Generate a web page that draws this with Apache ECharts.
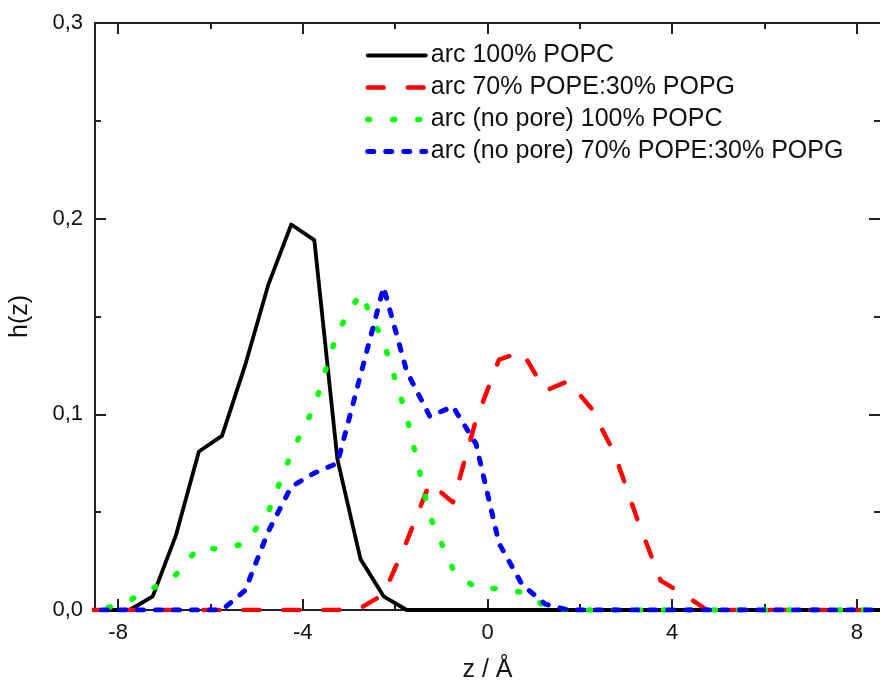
<!DOCTYPE html>
<html>
<head>
<meta charset="utf-8">
<script src="https://cdn.jsdelivr.net/npm/echarts@6/dist/echarts.min.js"></script>
<style>
html,body{margin:0;padding:0;background:#fff;}
#chart{width:880px;height:688px;}
</style>
</head>
<body>
<div id="chart"></div>
<script>
// z positions (bin centres, Å)
var zValues = [-8.75,-8.25,-7.75,-7.25,-6.75,-6.25,-5.75,-5.25,-4.75,-4.25,-3.75,-3.25,-2.75,-2.25,-1.75,-1.25,-0.75,-0.25,
	0.25,0.75,1.25,1.75,2.25,2.75,3.25,3.75,4.25,4.75,5.25,5.75,6.25,6.75,7.25,7.75,8.25,8.75];

var arcPOPC = [0,0,0,0.007,0.038,0.081,0.089,0.125,0.166,0.197,0.189,0.077,0.026,0.007,0,0,0,0,
	0,0,0,0,0,0,0,0,0,0,0,0,0,0,0,0,0,0];
var arcPOPEPOPG = [0,0,0,0,0,0,0,0,0,0,0,0,0.001,0.008,0.035,0.065,0.055,0.097,
	0.128,0.132,0.112,0.117,0.103,0.080,0.046,0.015,0.008,0,0,0,0,0,0,0,0,0];
var noPorePOPC = [0,0.001,0.005,0.011,0.018,0.032,0.031,0.034,0.050,0.080,0.104,0.142,0.162,0.137,0.099,0.048,0.021,0.011,
	0.011,0.009,0.002,0,0,0,0,0,0,0,0,0,0,0,0,0,0,0];
var noPorePOPEPOPG = [0,0,0,0,0,0,0,0.010,0.040,0.063,0.070,0.075,0.120,0.165,0.122,0.099,0.104,0.085,
	0.034,0.013,0.003,0,0,0,0,0,0,0,0,0,0,0,0,0,0,0];

var seriesNames = ['arc 100% POPC','arc 70% POPE:30% POPG','arc (no pore) 100% POPC','arc (no pore) 70% POPE:30% POPG'];
var xMajor = [-8,-4,0,4,8];
var xMinor = [-6,-2,2,6];

var FONT = "'Liberation Sans', Arial, sans-serif";
var AX = '#222';

function pairs(vals){
	return zValues.map(function(z,i){ return [z, vals[i]]; });
}
function xAx(pos, ticks, len, line, labels){
	return {
		type:'value', position:pos, min:-8.5, max:8.5,
		splitLine:{show:false},
		axisLine:{show:line, onZero:false, lineStyle:{color:AX, width:2}},
		axisTick:{show:true, inside:true, length:len, customValues:ticks, lineStyle:{color:AX, width:2}},
		axisLabel:{show:labels, customValues:ticks, margin:12, fontSize:22, color:'#111', fontFamily:FONT},
		name: labels ? 'z / Å' : '',
		nameLocation:'middle', nameGap:48,
		nameTextStyle:{fontSize:25, color:'#111', fontFamily:FONT}
	};
}
function yAx(pos, labels){
	return {
		type:'value', position:pos, min:0, max:0.3, interval:0.1,
		splitLine:{show:false},
		axisLine:{show:pos=='left', onZero:false, lineStyle:{color:AX, width:2}},
		axisTick:{show:true, inside:true, length:11, lineStyle:{color:AX, width:2}},
		minorTick:{show:true, splitNumber:2, length:6, lineStyle:{color:AX, width:2}},
		axisLabel:{show:labels, margin:12, fontSize:22, color:'#111', fontFamily:FONT,
			formatter:function(v){ return v.toFixed(1).replace('.', ','); }},
		name: labels ? 'h(z)' : '',
		nameLocation:'middle', nameGap:62,
		nameTextStyle:{fontSize:25, color:'#111', fontFamily:FONT}
	};
}
function line(name, vals, color, width, dash){
	return {
		name:name, type:'line', xAxisIndex:0, yAxisIndex:0,
		data:pairs(vals), symbol:'none', showSymbol:false,
		lineStyle:{color:color, width:width, type:dash, cap:'round', join:'round'},
		itemStyle:{color:color},
		z:2
	};
}

var myChart = echarts.init(document.getElementById('chart'));
var option = {
	animation:false,
	backgroundColor:'#fff',
	grid:{left:95, right:0, top:23, bottom:78},
	legend:{
		orient:'vertical', left:365, top:43, padding:0,
		itemWidth:58, itemHeight:14, itemGap:7,
		itemStyle:{opacity:0},
		lineStyle:{width:'inherit'},
		textStyle:{fontSize:25, lineHeight:24, color:'#111', fontFamily:FONT},
		data:seriesNames
	},
	xAxis:[
		xAx('bottom', xMajor, 11, true, true),
		xAx('bottom', xMinor, 6, false, false),
		xAx('top', xMajor, 11, true, false),
		xAx('top', xMinor, 6, false, false)
	],
	yAxis:[ yAx('left', true), yAx('right', false) ],
	series:[
		line(seriesNames[0], arcPOPC, '#000000', 3.8, 'solid'),
		line(seriesNames[1], arcPOPEPOPG, '#ff0000', 4.5, [16,24]),
		line(seriesNames[2], noPorePOPC, '#00ff00', 5.5, [2,23]),
		line(seriesNames[3], noPorePOPEPOPG, '#0000ff', 5, [6,12])
	]
};
myChart.setOption(option);
</script>
</body>
</html>
